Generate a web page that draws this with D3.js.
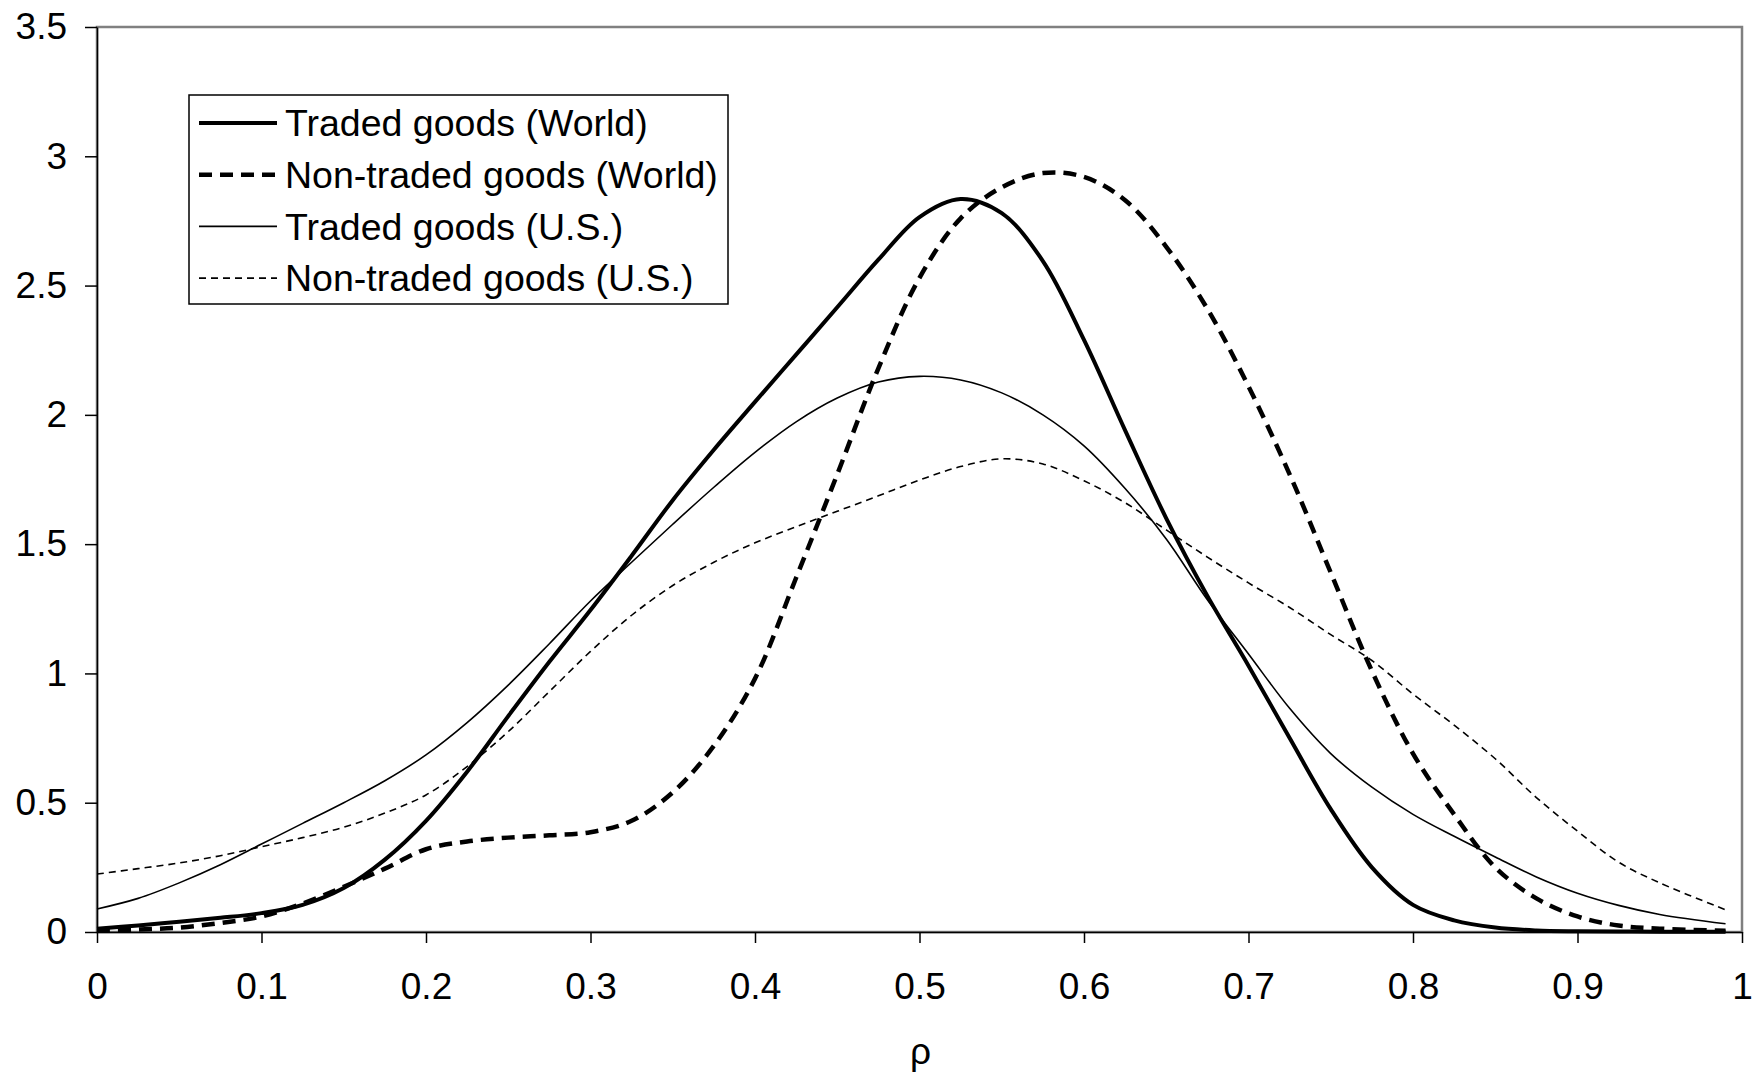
<!DOCTYPE html>
<html lang="en">

<head>
    <meta charset="UTF-8">
    <title>Density of rho</title>
    <script src="https://d3js.org/d3.v7.min.js"></script>
    <style>
        body { margin: 0; background: #fff; }
        text { font-family: "Liberation Sans", Arial, sans-serif; fill: #000; }
    </style>
</head>

<body>
    <svg width="1752" height="1076"></svg>

    <script>
        // rho grid the densities were read at
        const rho = [0, 0.025, 0.05, 0.075, 0.1, 0.125, 0.15, 0.175, 0.2, 0.225,
            0.25, 0.275, 0.3, 0.325, 0.35, 0.375, 0.4, 0.425, 0.45, 0.475,
            0.5, 0.525, 0.55, 0.575, 0.6, 0.625, 0.65, 0.675, 0.7, 0.725,
            0.75, 0.775, 0.8, 0.825, 0.85, 0.875, 0.9, 0.925, 0.95, 0.99]

        const tradedWorld = [0.013, 0.025, 0.04, 0.055, 0.073, 0.105, 0.17, 0.28, 0.43, 0.62,
            0.835, 1.045, 1.245, 1.455, 1.67, 1.865, 2.05, 2.233, 2.416, 2.6,
            2.765, 2.835, 2.78, 2.595, 2.29, 1.94, 1.6, 1.3, 1.03, 0.75,
            0.475, 0.25, 0.105, 0.045, 0.017, 0.006, 0.003, 0.002, 0.001, 0.001]

        const nonTradedWorld = [0.005, 0.01, 0.017, 0.035, 0.06, 0.11, 0.175, 0.245, 0.32, 0.35,
            0.365, 0.374, 0.386, 0.43, 0.54, 0.72, 0.98, 1.37, 1.77, 2.18,
            2.53, 2.76, 2.88, 2.935, 2.92, 2.83, 2.65, 2.41, 2.11, 1.77,
            1.39, 1.01, 0.69, 0.455, 0.25, 0.13, 0.06, 0.025, 0.013, 0.005]

        const tradedUS = [0.089, 0.13, 0.19, 0.26, 0.34, 0.42, 0.5, 0.585, 0.685, 0.81,
            0.955, 1.115, 1.28, 1.43, 1.577, 1.72, 1.855, 1.973, 2.065, 2.127,
            2.149, 2.135, 2.085, 2.0, 1.88, 1.715, 1.52, 1.285, 1.075, 0.865,
            0.69, 0.56, 0.455, 0.37, 0.29, 0.213, 0.15, 0.103, 0.068, 0.032]

        const nonTradedUS = [0.224, 0.245, 0.267, 0.295, 0.33, 0.365, 0.405, 0.46, 0.53, 0.64,
            0.775, 0.93, 1.085, 1.225, 1.34, 1.43, 1.505, 1.567, 1.627, 1.687,
            1.748, 1.8, 1.83, 1.81, 1.745, 1.66, 1.555, 1.45, 1.35, 1.255,
            1.15, 1.05, 0.92, 0.8, 0.67, 0.52, 0.39, 0.27, 0.19, 0.086]

        const xTicks = [0, 0.1, 0.2, 0.3, 0.4, 0.5, 0.6, 0.7, 0.8, 0.9, 1]
        const yTicks = [0, 0.5, 1, 1.5, 2, 2.5, 3, 3.5]

        const seriesNames = ["Traded goods (World)", "Non-traded goods (World)",
            "Traded goods (U.S.)", "Non-traded goods (U.S.)"]

        // line styles per series: width, dash
        const styles = [
            { w: 4, dash: null },
            { w: 4.5, dash: "13,8" },
            { w: 1.6, dash: null },
            { w: 1.6, dash: "7,5" }
        ]
        const series = [tradedWorld, nonTradedWorld, tradedUS, nonTradedUS]

        let svg = d3.select("svg");

        const m = { left: 97, right: 1742, top: 27, bottom: 932 };

        let x = d3.scaleLinear().domain([0, 1]).range([m.left, m.right]);
        let y = d3.scaleLinear().domain([0, 3.5]).range([m.bottom, m.top]);

        // gray plot border (top and right)
        svg.append("rect")
            .attr("x", m.left).attr("y", m.top)
            .attr("width", m.right - m.left).attr("height", m.bottom - m.top)
            .attr("fill", "none")
            .attr("stroke", "#808080")
            .attr("stroke-width", 2.5)

        // axes
        svg.append("g")
            .attr("transform", `translate(${m.left},0)`)
            .call(d3.axisLeft(y).tickValues(yTicks).tickFormat(d => String(d))
                .tickSize(12).tickSizeOuter(0).tickPadding(18))
        svg.append("g")
            .attr("transform", `translate(0,${m.bottom})`)
            .call(d3.axisBottom(x).tickValues(xTicks).tickFormat(d => String(d))
                .tickSize(11).tickSizeOuter(0).tickPadding(30))

        svg.selectAll(".domain, .tick line")
            .attr("stroke", "#000")
            .attr("stroke-width", 1.5)
        svg.selectAll(".tick text")
            .style("font-size", "37px")
            .style("font-family", '"Liberation Sans", Arial, sans-serif')
            .attr("fill", "#000")

        // axis title
        svg.append("text")
            .attr("x", x(0.5) + 1)
            .attr("y", 1064)
            .attr("text-anchor", "middle")
            .style("font-size", "37px")
            .text("ρ")

        // curves
        let line = d3.line()
            .x((d, i) => x(rho[i]))
            .y(d => y(d))
            .curve(d3.curveCatmullRom.alpha(0.5));

        series.forEach((s, k) => {
            svg.append("path")
                .attr("d", line(s))
                .attr("fill", "none")
                .attr("stroke", "#000")
                .attr("stroke-width", styles[k].w)
                .attr("stroke-dasharray", styles[k].dash)
                .attr("stroke-linejoin", "round")
        })

        // legend
        let legend = svg.append("g")
        legend.append("rect")
            .attr("x", 189).attr("y", 95)
            .attr("width", 539).attr("height", 209)
            .attr("fill", "#fff")
            .attr("stroke", "#000")
            .attr("stroke-width", 1.5)

        seriesNames.forEach((name, k) => {
            let ly = 123 + k * 51.7
            legend.append("line")
                .attr("x1", 199).attr("x2", 277)
                .attr("y1", ly).attr("y2", ly)
                .attr("stroke", "#000")
                .attr("stroke-width", styles[k].w)
                .attr("stroke-dasharray", styles[k].dash)
            legend.append("text")
                .attr("x", 285)
                .attr("y", ly)
                .attr("dy", "0.35em")
                .style("font-size", "37.5px")
                .text(name)
        })
    </script>
</body>

</html>
